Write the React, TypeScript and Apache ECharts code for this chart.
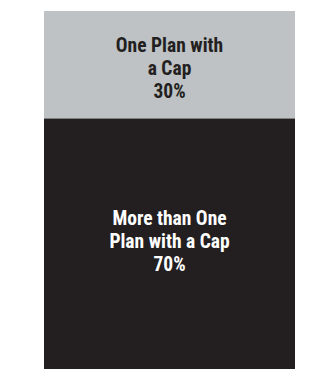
import React, { useEffect, useRef } from "react";
import * as echarts from "echarts";

const categories = ["Plans"];
const seriesNames = ["One Plan with\na Cap", "More than One\nPlan with a Cap"];
const oneCapValues = [30];
const moreCapValues = [70];
const colors = ["#BEC2C5", "#231F20"];
const labelColors = ["#231F20", "#FFFFFF"];

export default function App() {
  const ref = useRef<HTMLDivElement>(null);
  useEffect(() => {
    if (!ref.current) return;
    const chart = echarts.init(ref.current, null, { renderer: "svg" });
    const font = "'Roboto Condensed', 'Liberation Sans Narrow', sans-serif";
    const mk = (i: number, data: number[], offsetY: number) => ({
      name: seriesNames[i],
      type: "bar",
      stack: "total",
      barWidth: "100%",
      data,
      itemStyle: { color: colors[i] },
      label: {
        show: true,
        position: "inside",
        offset: [0, offsetY],
        formatter: (p: any) => `${seriesNames[i]}\n${p.value}%`,
        color: labelColors[i],
        fontFamily: font,
        fontWeight: "bold",
        fontSize: 19.5,
        lineHeight: 23,
        align: "center",
      },
    });
    chart.setOption({
      animation: false,
      grid: { left: 44, top: 11, width: 251, height: 367 },
      xAxis: {
        type: "category",
        data: categories,
        show: false,
      },
      yAxis: {
        type: "value",
        min: 0,
        max: 100,
        inverse: true,
        show: false,
      },
      series: [mk(0, oneCapValues, 4), mk(1, moreCapValues, -2)],
    });
    return () => chart.dispose();
  }, []);
  return <div ref={ref} style={{ width: 314, height: 369, position: "absolute", left: 0, top: 0 }} />;
}
